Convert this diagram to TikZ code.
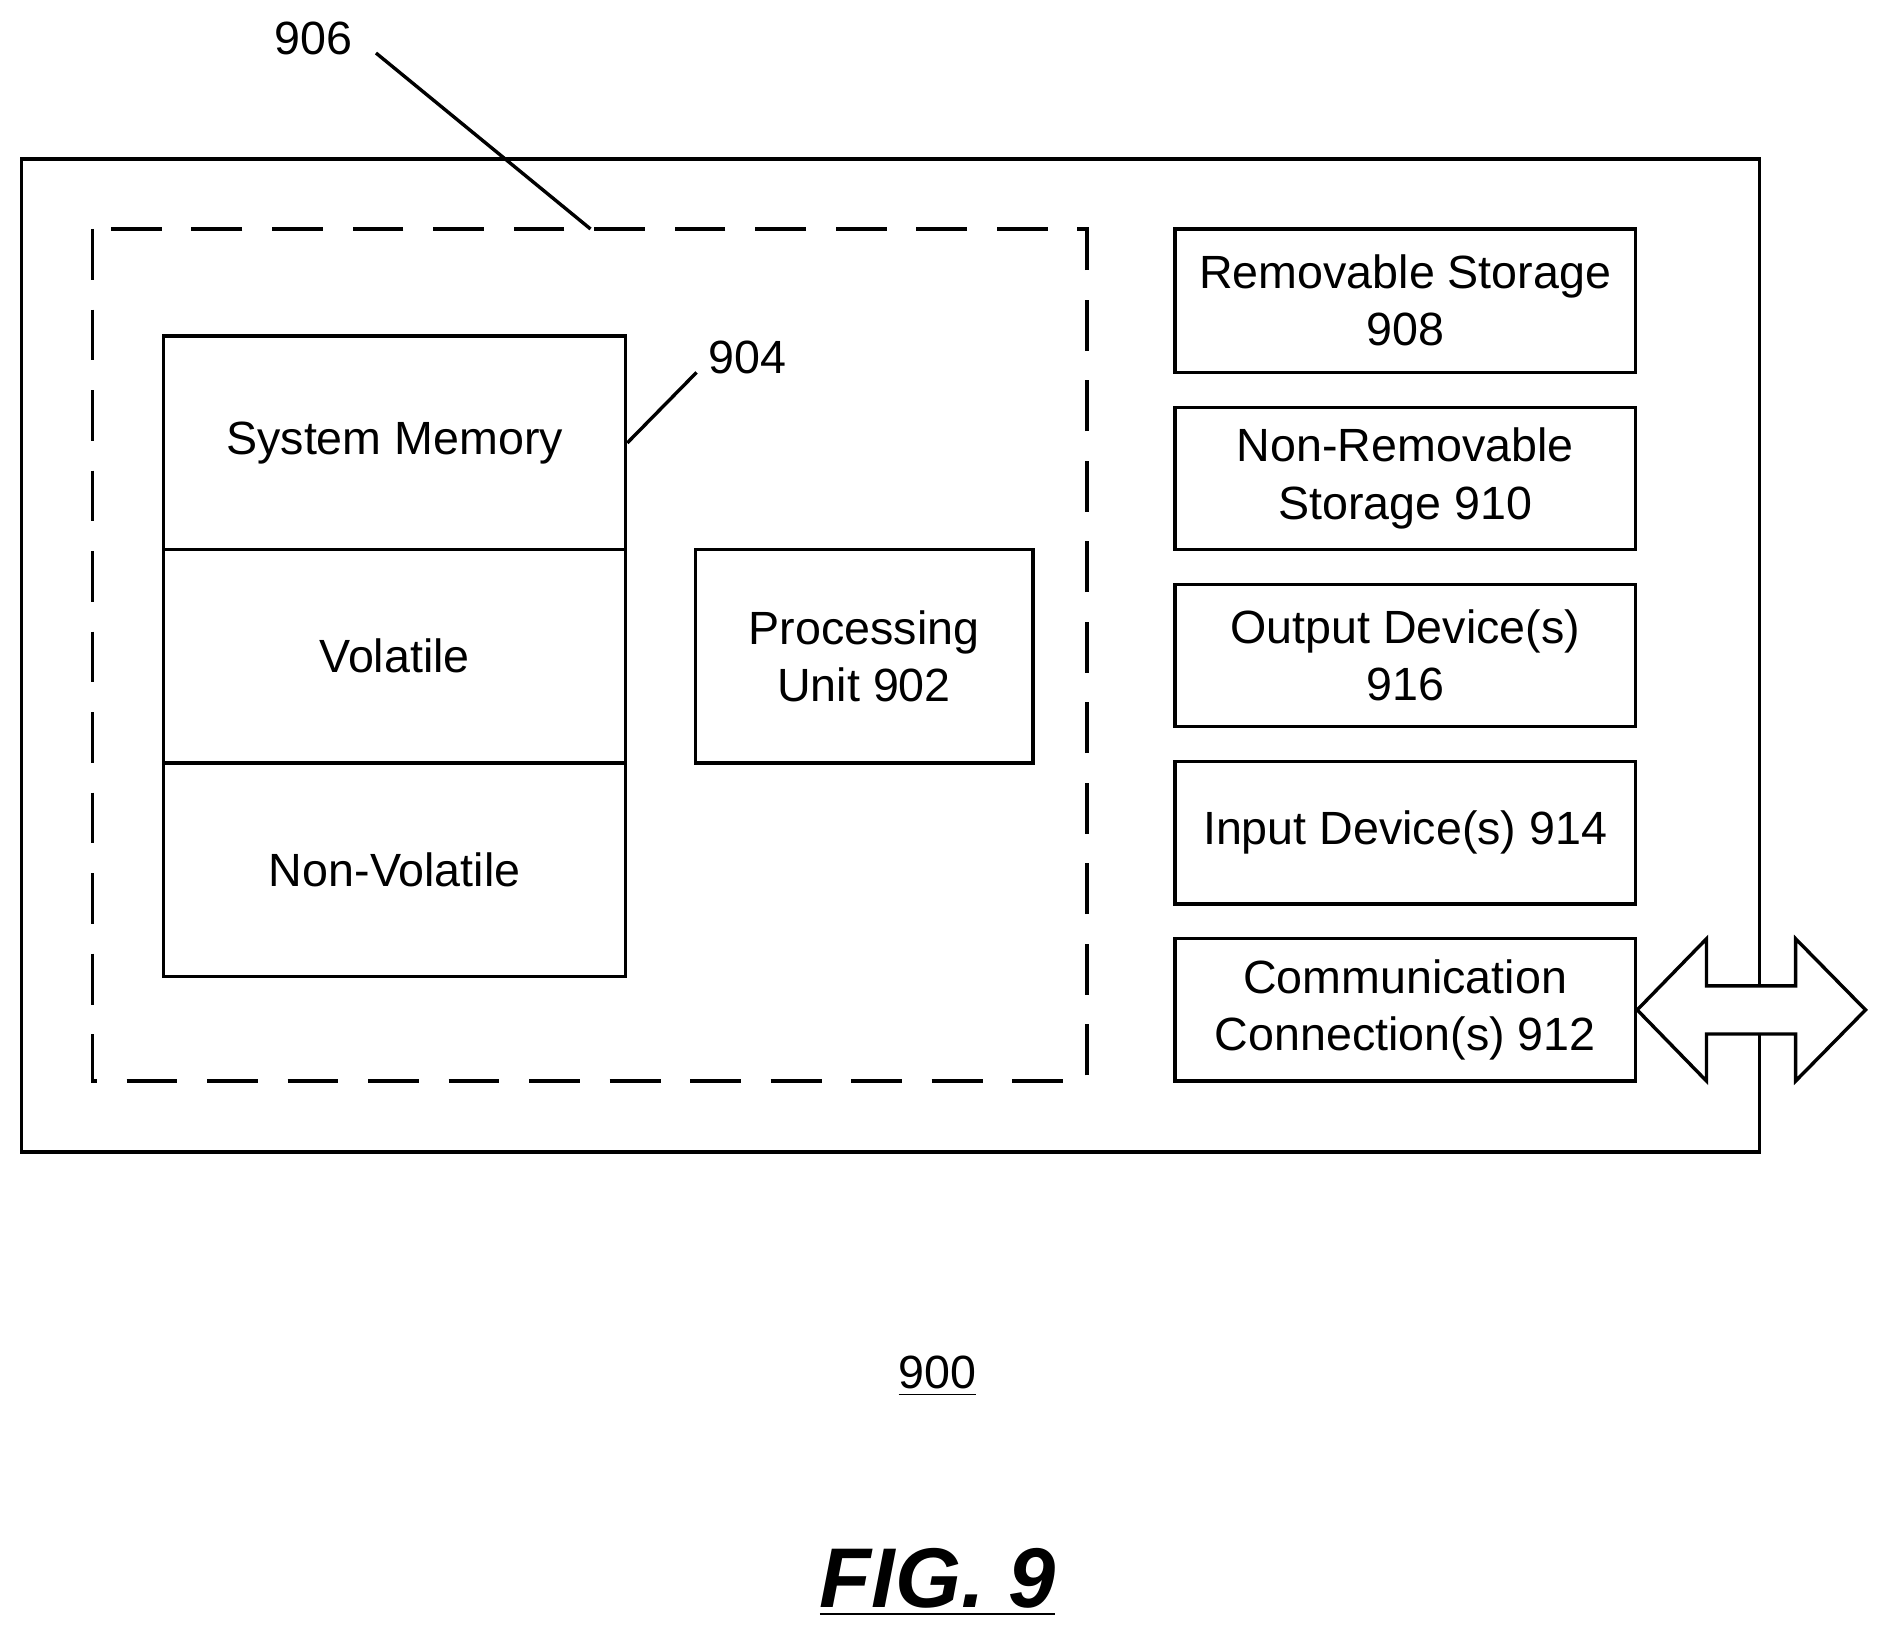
\documentclass[tikz,border=0pt]{standalone}
\usepackage{fontspec}
\setmainfont{Liberation Sans}
\usetikzlibrary{positioning}
\tikzset{
box/.style={rectangle,draw=black,line width=0.8pt,text centered,align=center,inner sep=0pt,font=\fontsize{11}{13.5}\selectfont},
lbl/.style={font=\fontsize{11}{13.5}\selectfont}
}
\begin{document}
\begin{tikzpicture}[x=0.01cm,y=-0.01cm,line width=0.8pt]
\useasboundingbox (0,0) rectangle (1560,1354);
% outer device
\draw (18,132) rectangle (1460,956);
\draw[dash pattern=on 12pt off 7pt] (77,190) rectangle (902,897);
% memory column
\node (mem) [box,minimum width=3.83cm,minimum height=1.77cm] at (327.5,367.5) {System Memory};
\node (vol) [box,minimum width=3.83cm,minimum height=1.77cm,below=-0.8pt of mem] {Volatile};
\node (nvol) [box,minimum width=3.83cm,minimum height=1.77cm,below=-0.8pt of vol] {Non-Volatile};
\node (proc) [box,minimum width=2.8cm,minimum height=1.77cm] at (717,544.5) {Processing\\Unit 902};
% right column
\node (rem) [box,minimum width=3.82cm,minimum height=1.19cm] at (1166,249.5) {Removable Storage\\908};
\node (nrem) [box,minimum width=3.82cm,minimum height=1.18cm] at (1166,397) {Non-Removable\\Storage 910};
\node (out) [box,minimum width=3.82cm,minimum height=1.18cm] at (1166,544) {Output Device(s)\\916};
\node (in) [box,minimum width=3.82cm,minimum height=1.18cm] at (1166,691) {Input Device(s) 914};
\node (comm) [box,minimum width=3.82cm,minimum height=1.18cm] at (1166,838) {Communication\\Connection(s) 912};
% double arrow
\draw[fill=white] (comm.east) -- (1416,779) -- (1416,818) -- (1490,818) -- (1490,779) -- (1548,838)
  -- (1490,897) -- (1490,858) -- (1416,858) -- (1416,897) -- cycle;
% reference labels
\node (l906) [lbl] at (260,32) {906};
\coordinate (d906) at (490,190);
\draw (312,44) -- (d906);
\node (l904) [lbl] at (620,297) {904};
\draw (578,309) -- (mem.east);
\node (l900) [lbl] at (778,1142) {\underline{900}};
\node (fig) [font=\fontsize{20}{24}\selectfont\bfseries\itshape] at (778,1313) {\underline{FIG. 9}};
\end{tikzpicture}
\end{document}
